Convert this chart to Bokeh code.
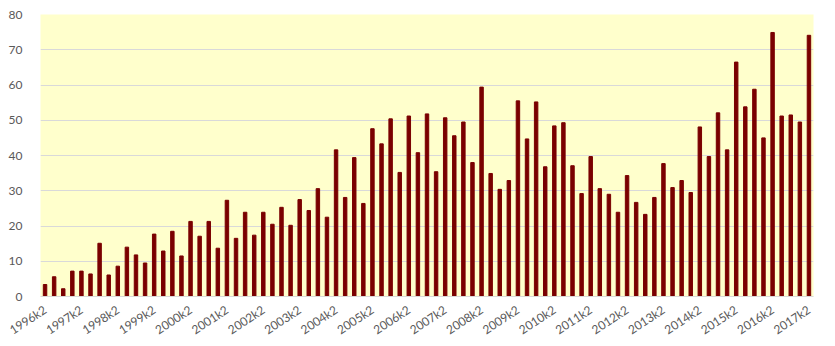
from bokeh.plotting import figure
from bokeh.models import FixedTicker, ColumnDataSource, Range1d
from bokeh.embed import file_html
from bokeh.resources import INLINE

years = list(range(1996, 2018))
quarters = []
for y in years:
    for q in (1, 2, 3, 4):
        quarters.append(f"{y}k{q}")
quarters = quarters[1:86]  # 1996k2 .. 2017k2

values = [
    3.4, 5.6, 2.2, 7.2, 7.2, 6.4, 15.1, 6.1, 8.6, 14.0,
    11.8, 9.5, 17.7, 12.9, 18.5, 11.5, 21.3, 17.1, 21.3, 13.7,
    27.3, 16.5, 23.9, 17.4, 23.9, 20.5, 25.3, 20.2, 27.5, 24.4,
    30.6, 22.5, 41.6, 28.1, 39.4, 26.4, 47.6, 43.3, 50.4, 35.2,
    51.2, 40.8, 51.8, 35.4, 50.7, 45.6, 49.5, 38.0, 59.4, 34.9,
    30.4, 32.9, 55.5, 44.7, 55.2, 36.8, 48.4, 49.3, 37.1, 29.2,
    39.7, 30.6, 29.0, 23.9, 34.3, 26.7, 23.3, 28.1, 37.7, 30.9,
    32.9, 29.5, 48.1, 39.7, 52.1, 41.6, 66.5, 53.8, 58.8, 45.0,
    74.9, 51.2, 51.5, 49.5, 74.1,
]

y_ticks = [0, 10, 20, 30, 40, 50, 60, 70, 80]

idx = list(range(len(quarters)))
src = ColumnDataSource(dict(x=idx, top=values, q=quarters))

p = figure(width=835, height=346, output_backend="svg", toolbar_location=None,
           x_range=Range1d(-0.5, len(quarters) - 0.5), y_range=Range1d(0, 80),
           min_border_left=40, min_border_right=22, min_border_top=14, min_border_bottom=48)
p.background_fill_color = "#FFFFCC"
p.border_fill_color = "white"
p.outline_line_color = None

p.vbar(x="x", top="top", width=0.38, source=src, color="#7A0000")

label_ticks = [i for i, q in enumerate(quarters) if q.endswith("k2")]
p.xaxis.ticker = FixedTicker(ticks=label_ticks)
p.xaxis.major_label_overrides = {i: quarters[i] for i in label_ticks}
p.xaxis.major_label_orientation = 0.58
p.xaxis.axis_line_color = "#D9D9D9"
p.xaxis.major_tick_line_color = None
p.xaxis.minor_tick_line_color = None
p.xaxis.major_label_text_color = "#595959"
p.xaxis.major_label_text_font = "Lato"
p.xaxis.major_label_text_font_size = "12px"
p.xaxis.major_label_standoff = 6

p.yaxis.ticker = FixedTicker(ticks=y_ticks)
p.yaxis.axis_line_color = None
p.yaxis.major_tick_line_color = None
p.yaxis.minor_tick_line_color = None
p.yaxis.major_label_text_color = "#595959"
p.yaxis.major_label_text_font = "Lato"
p.yaxis.major_label_text_font_size = "12px"
p.yaxis.major_label_standoff = 12

p.xgrid.grid_line_color = None
p.ygrid.grid_line_color = "#D9D9D9"
p.ygrid.ticker = FixedTicker(ticks=y_ticks)

open("out.html", "w").write(file_html(p, INLINE))
